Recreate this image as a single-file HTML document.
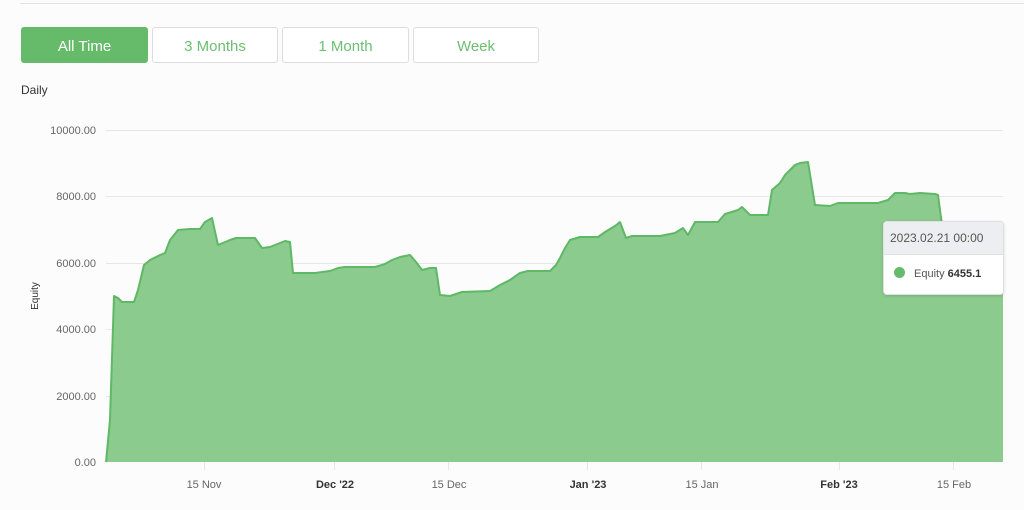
<!DOCTYPE html>
<html><head><style>
body{margin:0;width:1024px;height:510px;background:#fcfcfc;font-family:"Liberation Sans",sans-serif;overflow:hidden;position:relative}
.btn{position:absolute;top:27px;height:36px;border:1px solid #ddd;border-radius:3px;background:#fff;color:#6cbf72;font-size:15px;line-height:37px;text-align:center;box-sizing:border-box}
</style></head><body>
<div style="position:absolute;left:20px;top:3px;width:1004px;height:1px;background:#e3e3e3"></div>
<div class="btn" style="left:21px;width:127px;background:#66bb6a;border-color:#66bb6a;color:#fff">All Time</div>
<div class="btn" style="left:152px;width:126px">3 Months</div>
<div class="btn" style="left:282px;width:127px">1 Month</div>
<div class="btn" style="left:413px;width:126px">Week</div>
<div style="position:absolute;left:21px;top:83px;font-size:12px;color:#333">Daily</div>
<svg width="1024" height="510" style="position:absolute;left:0;top:0" font-family="Liberation Sans, sans-serif">
<g stroke="#e6e6e6" stroke-width="1">
<line x1="106" y1="130.5" x2="1003" y2="130.5"/><line x1="106" y1="196.5" x2="1003" y2="196.5"/><line x1="106" y1="263.5" x2="1003" y2="263.5"/><line x1="106" y1="329.5" x2="1003" y2="329.5"/><line x1="106" y1="396.5" x2="1003" y2="396.5"/>
<line x1="204.5" y1="462" x2="204.5" y2="470"/><line x1="334.5" y1="462" x2="334.5" y2="470"/><line x1="448.5" y1="462" x2="448.5" y2="470"/><line x1="587.5" y1="462" x2="587.5" y2="470"/><line x1="701.5" y1="462" x2="701.5" y2="470"/><line x1="839.5" y1="462" x2="839.5" y2="470"/><line x1="953.5" y1="462" x2="953.5" y2="470"/>
</g>
<g font-size="11" fill="#666" text-anchor="end">
<text x="96" y="134">10000.00</text><text x="96" y="200">8000.00</text><text x="96" y="267">6000.00</text><text x="96" y="333">4000.00</text><text x="96" y="400">2000.00</text><text x="96" y="466">0.00</text>
</g>
<text x="38" y="296" font-size="10" fill="#333" transform="rotate(-90 38 296)" text-anchor="middle">Equity</text>
<g font-size="11" fill="#666" text-anchor="middle">
<text x="204" y="488">15 Nov</text><text x="335" y="488" fill="#333" font-weight="bold">Dec '22</text><text x="449" y="488">15 Dec</text><text x="588" y="488" fill="#333" font-weight="bold">Jan '23</text><text x="702" y="488">15 Jan</text><text x="839" y="488" fill="#333" font-weight="bold">Feb '23</text><text x="954" y="488">15 Feb</text>
</g>
<path d="M106,462 L110,420 L114,296 L118,298 L122,302 L134,302 L138,290 L144,265 L150,260 L160,255 L165,253 L170,240 L178,230 L190,229 L200,229 L205,222 L212,218 L218,245 L230,240 L236,238 L255,238 L262,248 L270,247 L285,241 L290,242 L293,273 L315,273 L330,271 L338,268 L345,267 L375,267 L385,264 L392,260 L400,257 L410,255 L416,262 L422,270 L430,268 L436,268 L440,295 L450,296 L462,292 L490,291 L500,285 L510,280 L520,273 L528,271 L550,271 L556,265 L560,258 L565,248 L570,240 L580,237 L598,237 L605,232 L615,226 L620,222 L626,238 L632,236 L660,236 L675,233 L683,228 L688,235 L695,222 L718,222 L725,214 L738,210 L742,207 L750,215 L768,215 L772,190 L780,183 L785,175 L795,165 L800,163 L808,162 L815,205 L830,206 L838,203 L878,203 L888,200 L895,193 L905,193 L910,194 L920,193 L935,194 L938,195 L942,225 L950,260 L1003,248 L1003,462 Z" fill="#8bcb8e"/>
<path d="M106,462 L110,420 L114,296 L118,298 L122,302 L134,302 L138,290 L144,265 L150,260 L160,255 L165,253 L170,240 L178,230 L190,229 L200,229 L205,222 L212,218 L218,245 L230,240 L236,238 L255,238 L262,248 L270,247 L285,241 L290,242 L293,273 L315,273 L330,271 L338,268 L345,267 L375,267 L385,264 L392,260 L400,257 L410,255 L416,262 L422,270 L430,268 L436,268 L440,295 L450,296 L462,292 L490,291 L500,285 L510,280 L520,273 L528,271 L550,271 L556,265 L560,258 L565,248 L570,240 L580,237 L598,237 L605,232 L615,226 L620,222 L626,238 L632,236 L660,236 L675,233 L683,228 L688,235 L695,222 L718,222 L725,214 L738,210 L742,207 L750,215 L768,215 L772,190 L780,183 L785,175 L795,165 L800,163 L808,162 L815,205 L830,206 L838,203 L878,203 L888,200 L895,193 L905,193 L910,194 L920,193 L935,194 L938,195 L942,225 L950,260 L1003,248" fill="none" stroke="#5fb865" stroke-width="2" stroke-linejoin="round"/>
</svg>
<div style="position:absolute;left:883px;top:221px;width:119px;height:72px;background:#fff;border:1px solid #e0e0e0;border-radius:4px;box-shadow:0 1px 3px rgba(0,0,0,.15);font-size:12px;color:#555;overflow:hidden">
<div style="height:32px;background:#eceef1;border-bottom:1px solid #e0e0e0;line-height:32px;padding-left:6px">2023.02.21 00:00</div>
<div style="line-height:38px;padding-left:10px;font-size:11px"><span style="display:inline-block;width:11px;height:11px;border-radius:50%;background:#66bb6a;vertical-align:-1px;margin-right:9px"></span>Equity <b style="color:#333">6455.1</b></div>
</div>
</body></html>
